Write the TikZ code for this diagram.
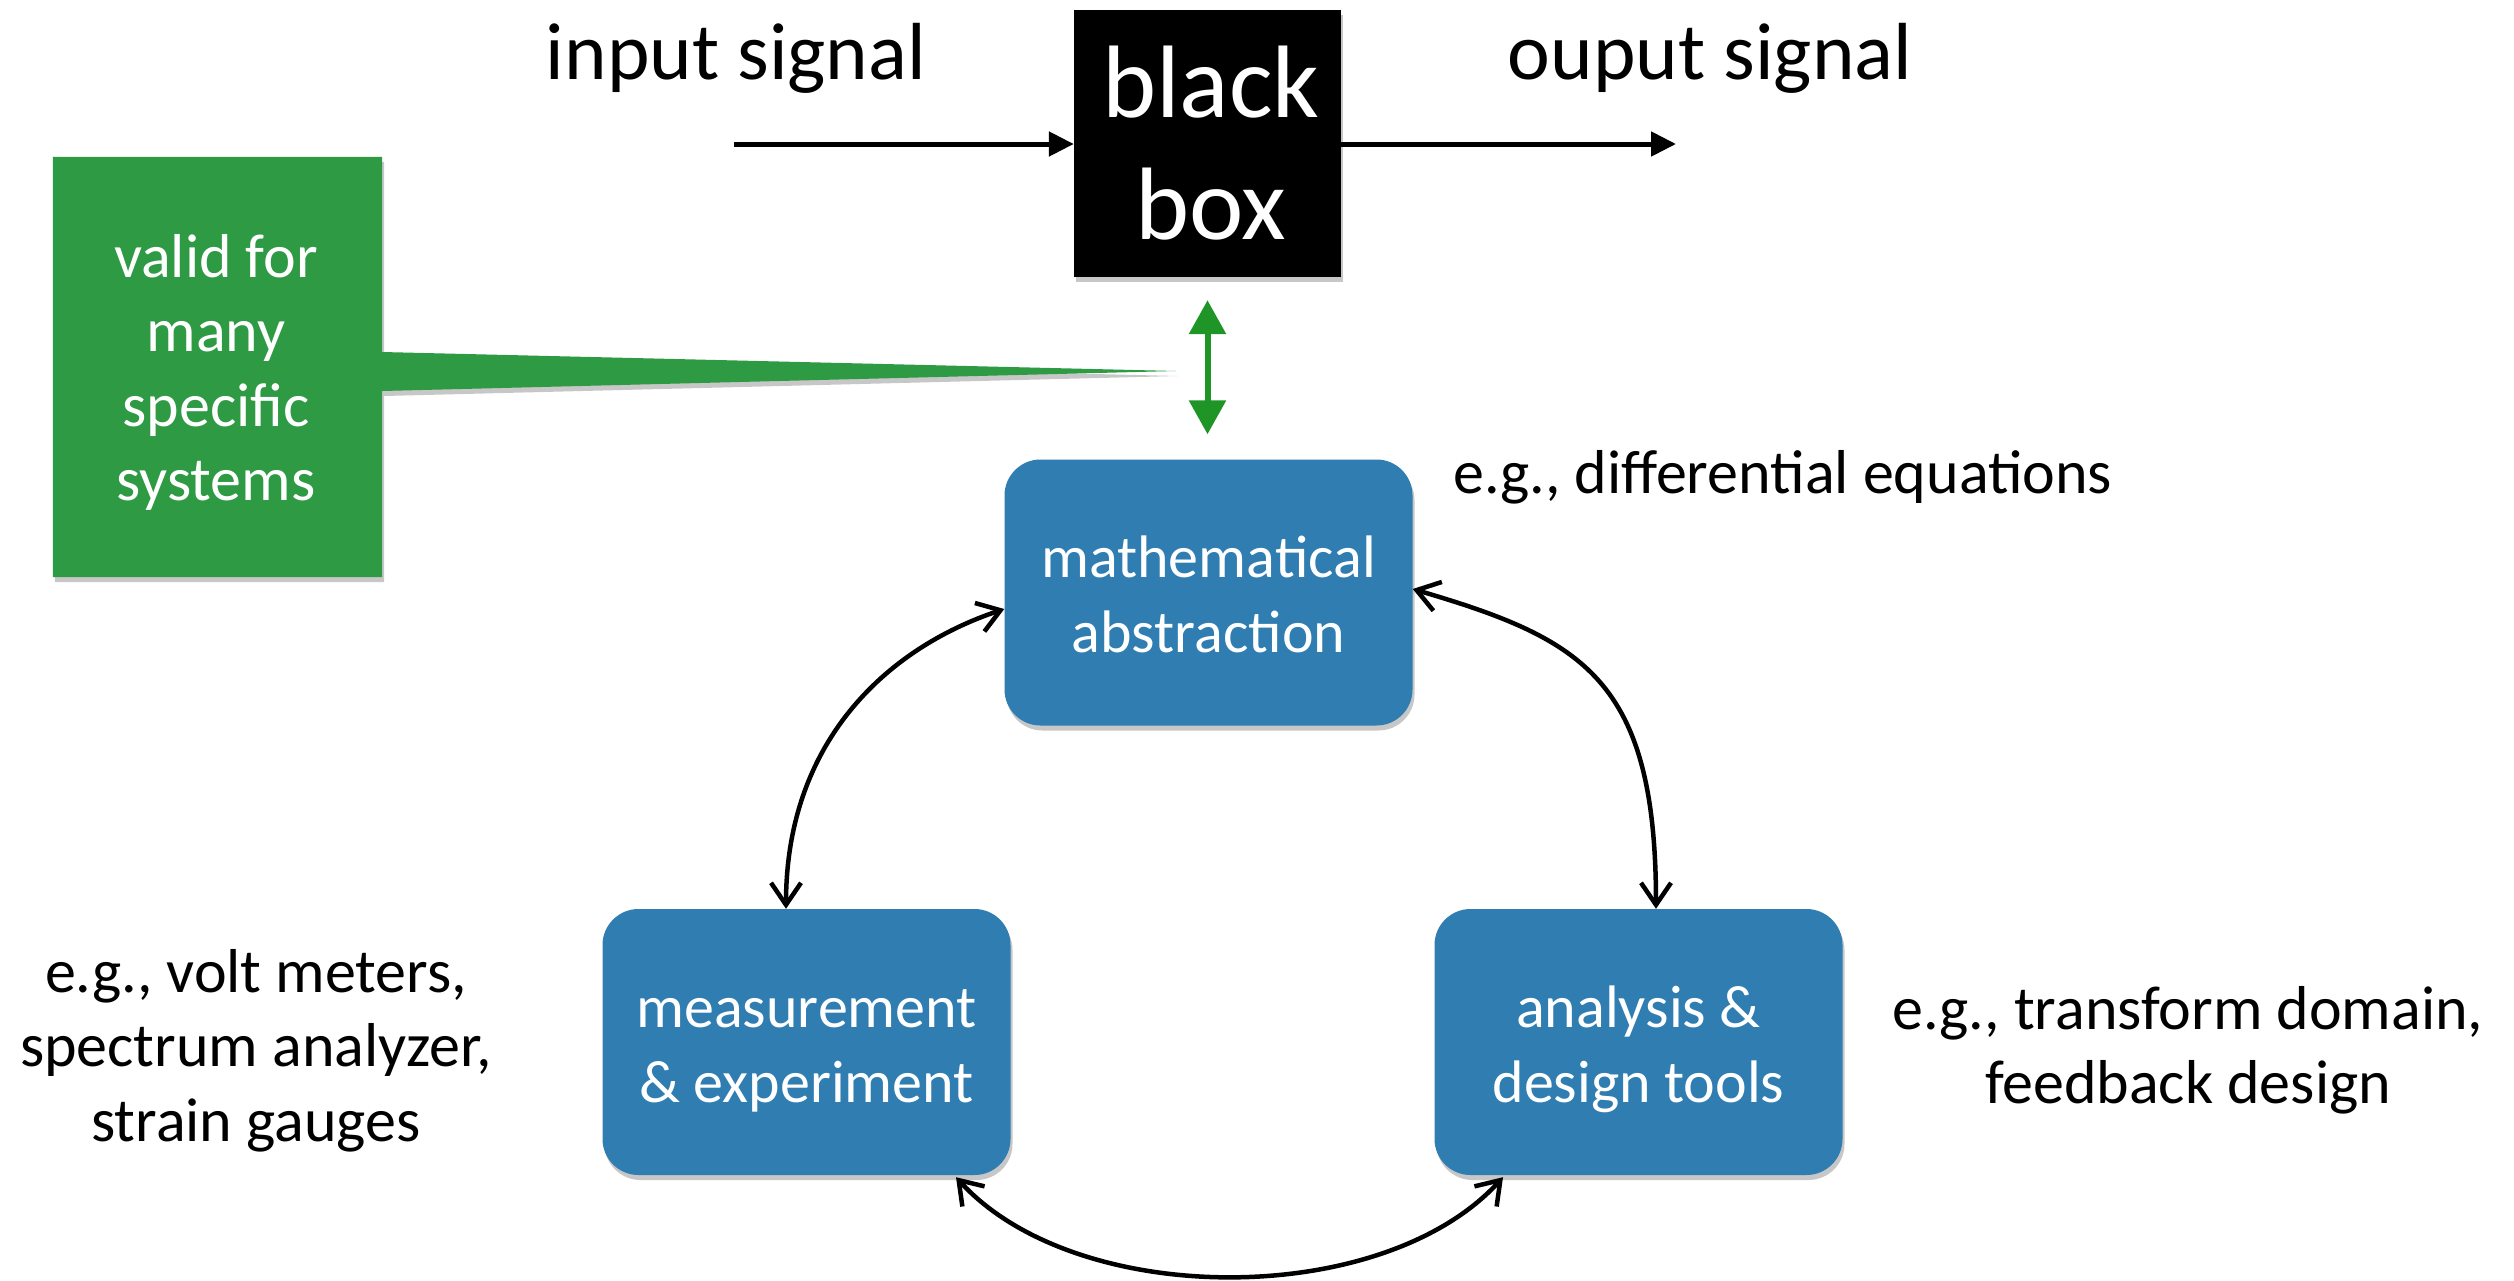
\documentclass[tikz,border=0pt]{standalone}
\usepackage{fontspec}
\setmainfont{Carlito}
\usetikzlibrary{arrows.meta,shadows,calc}
\definecolor{boxblue}{HTML}{2F7DB1}
\definecolor{notegreen}{HTML}{2E9A44}
\definecolor{arrowgreen}{HTML}{1F9427}
\newcommand{\stack}[1]{\begin{tabular}[t]{@{}c@{}}#1\end{tabular}}
\begin{document}
\begin{tikzpicture}[x=1pt,y=-1pt,
  softshadow/.style={drop shadow={shadow xshift=2pt,shadow yshift=-5pt,opacity=0.22,fill=black}},
  bluebox/.style={rectangle, rounded corners=36pt, fill=boxblue, minimum width=408pt, minimum height=266pt, inner sep=0pt, softshadow},
  boxtext/.style={anchor=base, text=white, inner sep=0pt, font=\fontsize{60}{75}\selectfont},
  lbl/.style={anchor=base, inner sep=0pt, font=\fontsize{62}{74.6}\selectfont},
  sigtext/.style={anchor=base, inner sep=0pt, font=\fontsize{81}{97}\selectfont},
  sigarrow/.style={line width=5pt, -{Triangle[length=25pt,width=24pt]}},
  cyc/.style={line width=4.5pt, {Straight Barb[length=22pt,width=30pt]}-{Straight Barb[length=22pt,width=30pt]}},
]
\fill[white] (0,0) rectangle (2514,1280);
\useasboundingbox (0,0) rectangle (2514,1280);

% black box
\node[rectangle, fill=black, minimum width=267pt, minimum height=267pt, inner sep=0pt, softshadow] (bb) at (1207.5,143.5) {};
\node[anchor=base, text=white, inner sep=0pt, font=\fontsize{103}{122}\selectfont] (bbtext) at (1211,117) {\stack{black\\box}};

\coordinate (inS) at (734,144);
\coordinate (outE) at (1676,144);
\draw[sigarrow] (inS) -- (inS -| bb.west);
\draw[sigarrow] (bb.east |- outE) -- (outE);
\node[sigtext] (intext) at (736,79) {input signal};
\node[sigtext] (outtext) at (1710,79) {ouput signal};

% blue boxes
\node[bluebox] (math) at (1208.5,592.5) {};
\node[bluebox] (meas) at (806.5,1042) {};
\node[bluebox] (anl) at (1638.5,1042) {};
\node[boxtext] (mathtxt) at ($(math.center)+(0,-15.5)$) {\stack{mathematical\\abstraction}};
\node[boxtext] (meastxt) at ($(meas.center)+(0,-14.5)$) {\stack{measurement\\\& experiment}};
\node[boxtext] (anltxt) at ($(anl.center)+(0,-14.5)$) {\stack{analysis \&\\design tools}};

% green callout
\node[rectangle, minimum width=329pt, minimum height=420pt, inner sep=0pt] (note) at (217.5,367) {};
\coordinate (tip) at (1176,371);
\fill[notegreen, softshadow] (note.north west) -- (note.north east) -- ($(note.east)+(0,-15)$) -- (tip) -- ($(note.east)+(0,24)$) -- (note.south east) -- (note.south west) -- cycle;
\node[lbl, text=white] (notetxt) at ($(note.center)+(-1.5,-90)$) {\stack{valid for\\many\\specific\\systems}};

% green double arrow
\draw[line width=6pt, arrowgreen, {Triangle[length=34pt,width=36pt]}-{Triangle[length=34pt,width=36pt]}, shorten <=23pt, shorten >=25pt] (bb.south) -- (bb.south |- math.north);

% cycle arrows
\draw[cyc] ($(meas.north)+(-20.5,0)$) .. controls +(0,-165) and +(-120,40) .. ($(math.west)+(0,16.5)$);
\draw[cyc] ($(math.east)+(0,-3.5)$) .. controls +(170,50) and +(0,-230) .. ($(anl.north)+(17.5,0)$);
\draw[cyc] ($(meas.south)+(149.5,2)$) .. controls +(120,132) and +(-120,132) .. ($(anl.south)+(-135.5,2)$);

% labels
\node[lbl, anchor=base west] (diffeq) at (1453,493) {e.g., differential equations};
\node[lbl] (measlbl) at (256,992) {\stack{e.g., volt meters,\\spectrum analyzer,\\strain gauges}};
\node[lbl] (anllbl) at (2188,1029) {\stack{e.g., transform domain,\\feedback design}};
\end{tikzpicture}
\end{document}
